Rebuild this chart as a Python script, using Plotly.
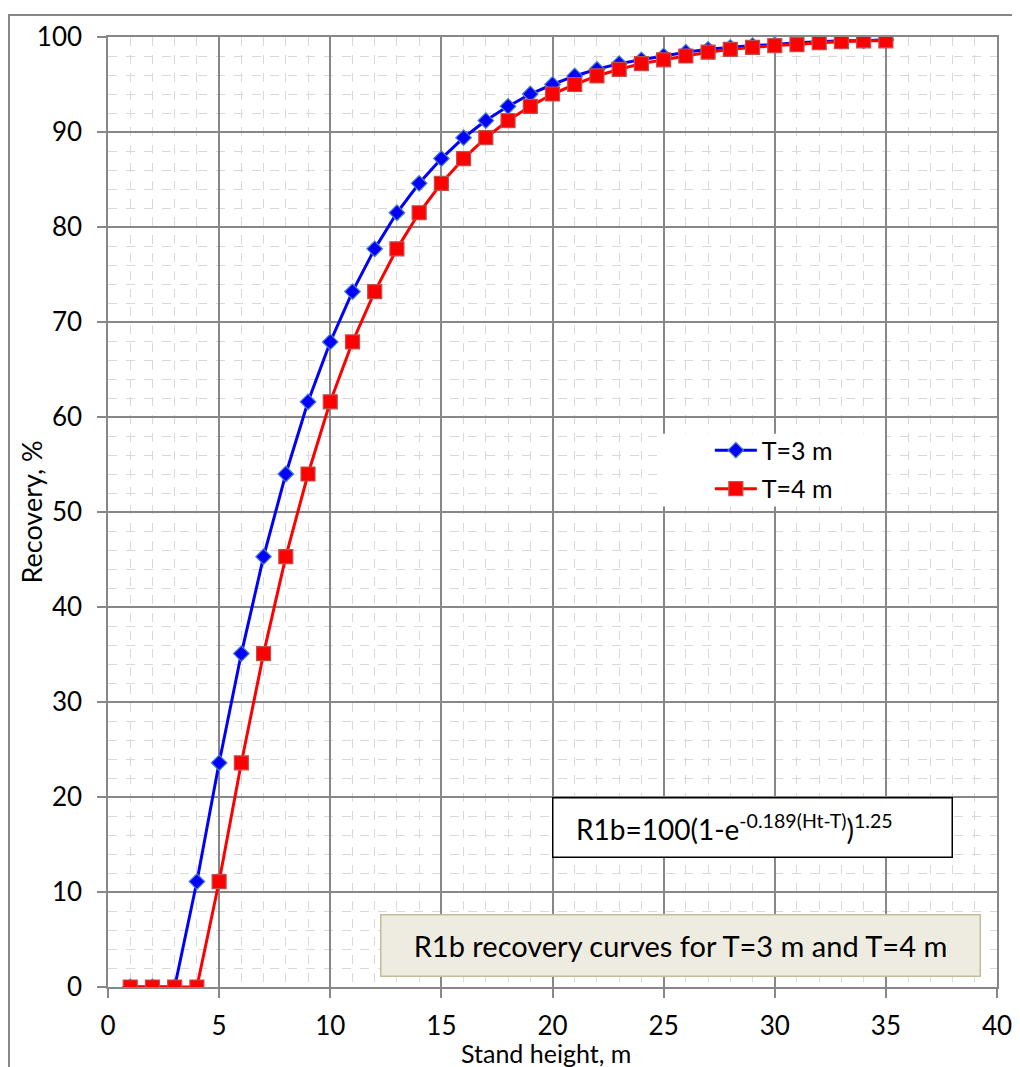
import plotly.graph_objects as go

heights = list(range(1, 36))
rec_t3 = [0, 0, 0, 11.1, 23.6, 35.1, 45.3, 54.0, 61.6, 67.9, 73.2, 77.7, 81.5, 84.6,
          87.2, 89.4, 91.2, 92.7, 94.0, 95.0, 95.9, 96.6, 97.2, 97.6, 98.0, 98.4,
          98.7, 98.9, 99.1, 99.2, 99.4, 99.5, 99.6, 99.6, 99.7]
rec_t4 = [0, 0, 0, 0, 11.1, 23.6, 35.1, 45.3, 54.0, 61.6, 67.9, 73.2, 77.7, 81.5,
          84.6, 87.2, 89.4, 91.2, 92.7, 94.0, 95.0, 95.9, 96.6, 97.2, 97.6, 98.0,
          98.4, 98.7, 98.9, 99.1, 99.2, 99.4, 99.5, 99.6, 99.6]
series_names = ["T=3 m", "T=4 m"]
x_ticks = [0, 5, 10, 15, 20, 25, 30, 35, 40]
y_ticks = [0, 10, 20, 30, 40, 50, 60, 70, 80, 90, 100]

FONT = "Lato"
GRID = "#878787"
MINOR = "#d9d9d9"

fig = go.Figure()
fig.add_trace(go.Scatter(
    x=heights, y=rec_t3, name=series_names[0], mode="lines+markers",
    legendgroup="a",
    line=dict(color="#0000ff", width=3),
    marker=dict(symbol="diamond", size=12, color="#0000ff",
                line=dict(color="#4f81bd", width=1.2)),
))
fig.add_trace(go.Scatter(
    x=heights, y=rec_t4, name=series_names[1], mode="lines+markers",
    legendgroup="b",
    line=dict(color="#ff0000", width=3),
    marker=dict(symbol="square", size=14, color="#ff0000",
                line=dict(color="#c0504d", width=1.2)),
))

axis_common = dict(
    showline=True, linecolor=GRID, linewidth=1.5, mirror=True,
    showgrid=True, gridcolor=GRID, gridwidth=1.5,
    ticks="outside", ticklen=9, tickcolor=GRID, tickwidth=1.5,
    tickfont=dict(family=FONT, size=26, color="black"),
    zeroline=False,
)

fig.update_xaxes(
    range=[0, 40], tickvals=x_ticks, ticklabelstandoff=6, **axis_common,
    minor=dict(dtick=1, showgrid=True, gridcolor=MINOR, griddash="dash", gridwidth=1.2),
)
fig.update_yaxes(
    range=[0, 100], tickvals=y_ticks, ticklabelstandoff=10, **axis_common,
    minor=dict(dtick=2, showgrid=True, gridcolor=MINOR, griddash="dash", gridwidth=1.2),
)

# axis titles
fig.add_annotation(
    x=0.4927, y=-0.0693, xref="paper", yref="paper", text="Stand height, m",
    showarrow=False, font=dict(family=FONT, size=25, color="black"),
    xanchor="center", yanchor="middle",
)
fig.add_annotation(
    x=-0.0855, y=0.5005, xref="paper", yref="paper", text="Recovery, %",
    showarrow=False, font=dict(family=FONT, size=27, color="black"),
    textangle=-90, xanchor="center", yanchor="middle",
)

fig.add_annotation(
    x=29.0, y=16.8, xref="x", yref="y",
    text="&nbsp;&nbsp;&nbsp;R1b=100(1-e<sup>-0.189(Ht-T)</sup>)<sup>1.25</sup>",
    showarrow=False, font=dict(family=FONT, size=28, color="black"),
    bgcolor="white", bordercolor="black", borderwidth=1.5,
    width=396, height=56, align="left",
)
fig.add_annotation(
    x=25.75, y=4.35, xref="x", yref="y",
    text="R1b recovery curves for T=3 m and T=4 m",
    showarrow=False, font=dict(family=FONT, size=29, color="black"),
    bgcolor="#eeece1", bordercolor="#c4bd97", borderwidth=1.5,
    width=596, height=58, align="center",
)

# outer chart frame
fig.add_shape(
    type="rect", xref="paper", yref="paper",
    x0=-0.1114, x1=1.1, y0=-0.2, y1=1.0231,
    line=dict(color=GRID, width=2), fillcolor="rgba(0,0,0,0)", layer="below",
)
# legend background
fig.add_shape(
    type="rect", xref="paper", yref="paper",
    x0=0.621, x1=0.874, y0=0.5058, y1=0.5824,
    line=dict(width=0), fillcolor="white", layer="above",
)

fig.update_layout(
    width=1020, height=1067,
    margin=dict(l=100, r=31, t=26, b=88),
    paper_bgcolor="white", plot_bgcolor="white",
    font=dict(family=FONT, size=20, color="black"),
    legend=dict(
        x=0.677, y=0.589, xanchor="left", yanchor="top",
        bgcolor="rgba(255,255,255,0)", borderwidth=0,
        font=dict(family=FONT, size=25, color="black"),
        tracegroupgap=3, itemwidth=42,
    ),
    showlegend=True,
)

fig.write_html("out.html")
